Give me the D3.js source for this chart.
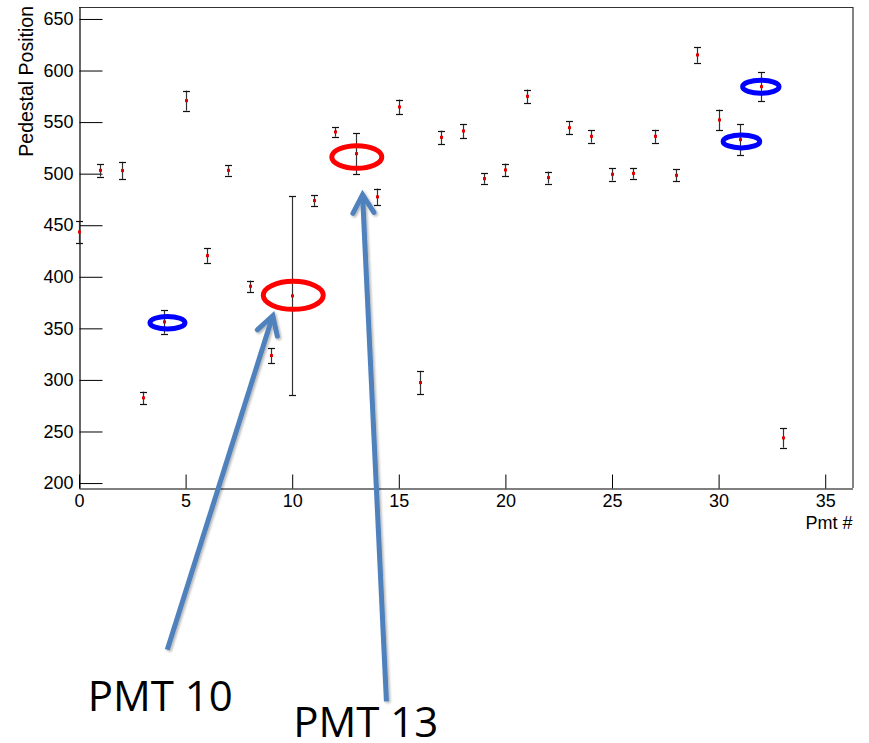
<!DOCTYPE html>
<html><head><meta charset="utf-8">
<script src="https://cdn.jsdelivr.net/npm/d3@7"></script>
<style>body{margin:0;background:#fff} svg{display:block}</style>
</head><body><svg id="c" width="869" height="743"></svg>
<script>
// ---- data ----
const pmtIds   = [0,1,2,3,4,5,6,7,8,9,10,11,12,13,14,15,16,17,18,19,20,21,22,23,24,25,26,27,28,29,30,31,32,33];
const pedestal = [443.5,503.2,503.0,282.6,356.3,570.8,420.5,503.2,390.8,323.6,381.5,473.9,540.5,519.4,477.5,564.7,297.4,535.2,541.4,495.2,503.6,575.0,496.2,544.6,536.2,499.4,500.3,536.2,498.4,615.1,552.1,533.0,584.4,243.8];
const pedErr   = [10.5,6.0,8.5,6.0,11.5,9.7,7.0,5.0,5.5,7.3,96.5,5.2,4.7,19.7,8.0,7.1,11.3,6.5,6.8,5.0,6.1,6.5,5.8,6.3,6.1,6.1,5.3,6.3,6.0,7.6,10.0,14.9,14.2,9.5];
const xMajorTicks = [0,5,10,15,20,25,30,35];
const xMinorTicks = [0,1,2,3,4,5,6,7,8,9,10,11,12,13,14,15,16,17,18,19,20,21,22,23,24,25,26,27,28,29,30,31,32,33,34,35,36];
const yMajorTicks = [200,250,300,350,400,450,500,550,600,650];
const yMinorTicks = d3.range(200, 661, 10);
const xTitle = "Pmt #";
const yTitle = "Pedestal Position";

// annotations (in data coordinates)
const circledRed  = [{x:10.05, y:382, rx:30, ry:14}, {x:13.03, y:516.2, rx:25, ry:11.3}];
const circledBlue = [{x:4.15, y:355.5, rx:17.5, ry:6.3}, {x:31.07, y:531.3, rx:18.3, ry:6.5}, {x:31.98, y:584.3, rx:18.2, ry:6.5}];
const arrows = [
  {x0:4.14, y0:38.3, x1:9.09, y1:362.3},
  {x0:14.42, y0:-11.8, x1:13.30, y1:479.6}
];
const labels = [
  {text:"PMT 10", x:0.41, y:-21.5},
  {text:"PMT 13", x:10.05, y:-46.0}
];

// ---- chart ----
const svg = d3.select("#c");
svg.append("rect").attr("width",869).attr("height",743).attr("fill","#fff");

const x = d3.scaleLinear().domain([0, 36.28]).range([79, 852.5]);
const y = d3.scaleLinear().domain([195.2, 661.6]).range([488, 7]);
const font = "'Liberation Sans', Arial, Helvetica, sans-serif";

const defs = svg.append("defs");
const f = defs.append("filter").attr("id","sh").attr("x","-20%").attr("y","-20%").attr("width","140%").attr("height","140%");
f.append("feDropShadow").attr("dx",1.5).attr("dy",1.5).attr("stdDeviation",1.2).attr("flood-color","#000").attr("flood-opacity",0.3);

// frame (top and right)
svg.append("path")
  .attr("d", `M${x(0)},${y(661.6)+0.5}H${x(36.28)+0.5}V${y(195.2)}`)
  .attr("fill","none").attr("stroke","#333").attr("stroke-width",1.2);

// x axis
const gx = svg.append("g").attr("transform",`translate(0,${y(195.2)+0.5})`);
gx.call(d3.axisBottom(x).tickValues(xMinorTicks).tickSize(-8).tickSizeOuter(0).tickFormat(""));
gx.call(d3.axisBottom(x).tickValues(xMajorTicks).tickSize(-14).tickSizeOuter(0).tickPadding(6).tickFormat(d3.format("d")));
gx.selectAll("path.domain").attr("stroke","#000").attr("stroke-width",1.2);
gx.selectAll(".tick line").attr("stroke","#000");
gx.selectAll("text").attr("font-family",font).attr("font-size",18).attr("fill","#000");

// y axis
const gy = svg.append("g").attr("transform",`translate(${x(0)+0.5},0)`);
gy.call(d3.axisLeft(y).tickValues(yMinorTicks).tickSize(-12).tickSizeOuter(0).tickFormat(""));
gy.call(d3.axisLeft(y).tickValues(yMajorTicks).tickSize(-23).tickSizeOuter(0).tickPadding(6).tickFormat(d3.format("d")));
gy.selectAll("path.domain").attr("stroke","#000").attr("stroke-width",1.2);
gy.selectAll(".tick line").attr("stroke","#000");
gy.selectAll("text").attr("font-family",font).attr("font-size",18).attr("fill","#000");

// axis titles
svg.append("text").attr("x", x(36.28)).attr("y", 528.5)
  .attr("text-anchor","end").attr("font-family",font).attr("font-size",18).text(xTitle);
svg.append("text").attr("transform",`translate(33,${y(661.6)-1}) rotate(-90)`)
  .attr("text-anchor","end").attr("font-family",font).attr("font-size",19.5).text(yTitle);

// error bars + markers
const pts = pmtIds.map((id,i)=>({id, v:pedestal[i], e:pedErr[i]}));
const gp = svg.append("g");
const eb = gp.selectAll("g.eb").data(pts).join("g").attr("class","eb");
eb.append("line")
  .attr("x1",d=>Math.round(x(d.id))+0.5).attr("x2",d=>Math.round(x(d.id))+0.5)
  .attr("y1",d=>y(d.v+d.e)).attr("y2",d=>y(d.v-d.e))
  .attr("stroke","#333").attr("stroke-width",1.2);
eb.selectAll("line.cap").data(d=>[[d.id,d.v+d.e],[d.id,d.v-d.e]]).join("line").attr("class","cap")
  .attr("x1",d=>Math.round(x(d[0]))+0.5-3.5).attr("x2",d=>Math.round(x(d[0]))+0.5+3.5)
  .attr("y1",d=>Math.round(y(d[1]))+0.5).attr("y2",d=>Math.round(y(d[1]))+0.5)
  .attr("stroke","#111").attr("stroke-width",1.2);
gp.selectAll("rect.m").data(pts).join("rect").attr("class","m")
  .attr("x",d=>Math.round(x(d.id))-1).attr("y",d=>y(d.v)-1.5)
  .attr("width",3).attr("height",3).attr("fill","#e00000");

// annotations
const ga = svg.append("g");
ga.selectAll("ellipse.r").data(circledRed).join("ellipse").attr("class","r")
  .attr("cx",d=>x(d.x)).attr("cy",d=>y(d.y)).attr("rx",d=>d.rx).attr("ry",d=>d.ry)
  .attr("fill","none").attr("stroke","#ff0000").attr("stroke-width",5);
ga.selectAll("ellipse.b").data(circledBlue).join("ellipse").attr("class","b")
  .attr("cx",d=>x(d.x)).attr("cy",d=>y(d.y)).attr("rx",d=>d.rx).attr("ry",d=>d.ry)
  .attr("fill","none").attr("stroke","#0000ff").attr("stroke-width",5);

const arrowColor = "#4f81bd";
arrows.forEach(a=>{
  const X0=x(a.x0), Y0=y(a.y0), X1=x(a.x1), Y1=y(a.y1);
  const ang = Math.atan2(Y1-Y0, X1-X0);
  const L = 21, w = Math.PI/6;
  const p1 = [X1 - L*Math.cos(ang-w), Y1 - L*Math.sin(ang-w)];
  const p2 = [X1 - L*Math.cos(ang+w), Y1 - L*Math.sin(ang+w)];
  const g = ga.append("g").attr("filter","url(#sh)");
  g.append("line").attr("x1",X0).attr("y1",Y0).attr("x2",X1).attr("y2",Y1)
    .attr("stroke",arrowColor).attr("stroke-width",5);
  g.append("path").attr("d",`M${p1[0]},${p1[1]}L${X1},${Y1}L${p2[0]},${p2[1]}`)
    .attr("fill","none").attr("stroke",arrowColor).attr("stroke-width",5)
    .attr("stroke-linejoin","miter").attr("stroke-linecap","round");
});
ga.selectAll("text.lab").data(labels).join("text").attr("class","lab")
  .attr("x",d=>x(d.x)).attr("y",d=>y(d.y))
  .attr("font-family","'Open Sans', 'Noto Sans', sans-serif").attr("font-size",42).attr("fill","#000")
  .text(d=>d.text);
</script>
</body></html>
